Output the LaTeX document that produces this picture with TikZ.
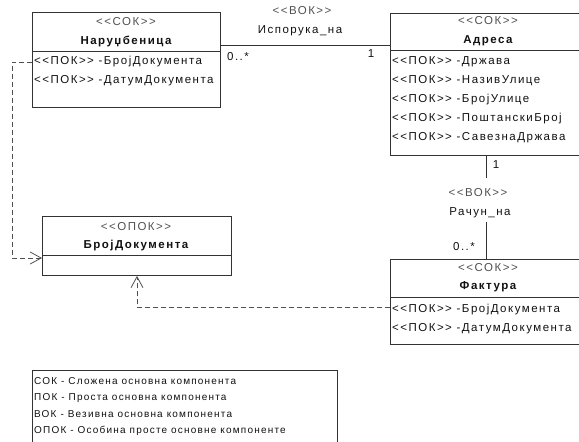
\documentclass[tikz,border=0pt]{standalone}
\usepackage{fontspec}
\setmainfont{Liberation Sans}[LetterSpace=13,Ligatures=TeXOff]
\newfontfamily\legendfont{Liberation Sans}[LetterSpace=12,Ligatures=TeXOff]
\usetikzlibrary{arrows.meta}
\definecolor{ink}{HTML}{111111}
\definecolor{frame}{HTML}{333333}
\definecolor{stereo}{HTML}{505050}
\begin{document}
\begin{tikzpicture}[x=1pt,y=-1pt,
  classbox/.style={draw=frame,line width=0.9pt,inner sep=0pt,anchor=north west},
  sep/.style={draw=frame,line width=0.9pt},
  txt/.style={inner sep=0pt,text=ink,font=\fontsize{11.5}{13}\selectfont},
  stereotype/.style={txt,text=stereo},
  cname/.style={txt,font=\fontsize{11.5}{13}\selectfont\bfseries},
  attr/.style={txt,anchor=west},
  mult/.style={txt},
  assoc/.style={draw=frame,line width=0.8pt},
  depend/.style={draw=stereo,line width=0.8pt,dash pattern=on 5pt off 3pt,
    -{Straight Barb[length=11pt,width=12pt,line width=0.8pt]}},
  legendtxt/.style={inner sep=0pt,anchor=west,text=ink,font=\legendfont\fontsize{10}{12}\selectfont}
]
\clip (0,0) rectangle (579,442);

% Наруџбеница
\node[classbox,minimum width=188pt,minimum height=95pt] (nar) at (32,12) {};
\draw[sep] (32,51) -- (220,51);
\node[stereotype] (narS) at (126,22) {<<СОК>>};
\node[cname] (narN) at (126,41) {Наруџбеница};
\node[attr] (narA1) at (34,62) {<<ПОК>> -БројДокумента};
\node[attr] (narA2) at (34,81) {<<ПОК>> -ДатумДокумента};

% Адреса
\node[classbox,minimum width=196pt,minimum height=142pt] (adr) at (390,13) {};
\draw[sep] (390,50) -- (586,50);
\node[stereotype] (adrS) at (488,21) {<<СОК>>};
\node[cname] (adrN) at (488,41) {Адреса};
\node[attr] (adrA1) at (392,62) {<<ПОК>> -Држава};
\node[attr] (adrA2) at (392,81) {<<ПОК>> -НазивУлице};
\node[attr] (adrA3) at (392,100) {<<ПОК>> -БројУлице};
\node[attr] (adrA4) at (392,119) {<<ПОК>> -ПоштанскиБрој};
\node[attr] (adrA5) at (392,138) {<<ПОК>> -СавезнаДржава};

% Фактура
\node[classbox,minimum width=196pt,minimum height=85pt] (fak) at (390,259) {};
\draw[sep] (390,297) -- (586,297);
\node[stereotype] (fakS) at (488,268) {<<СОК>>};
\node[cname] (fakN) at (488,287) {Фактура};
\node[attr] (fakA1) at (392,310) {<<ПОК>> -БројДокумента};
\node[attr] (fakA2) at (392,329) {<<ПОК>> -ДатумДокумента};

% БројДокумента
\node[classbox,minimum width=189pt,minimum height=59pt] (bd) at (42,216) {};
\draw[sep] (42,255) -- (231,255);
\node[stereotype] (bdS) at (136,227) {<<ОПОК>>};
\node[cname] (bdN) at (136,246) {БројДокумента};

% Испорука_на
\draw[assoc] ([yshift=-33pt]nar.north east) -- ([yshift=-32pt]adr.north west);
\node[stereotype] (ispS) at (302,11) {<<ВОК>>};
\node[txt] (ispN) at (300,31) {Испорука\_на};
\node[mult] (ispM1) at (238,57) {0..*};
\node[mult] (ispM2) at (371,54) {1};

% Рачун_на
\coordinate (r1) at (486,178);
\coordinate (r2) at (486,222);
\draw[assoc] (adr.south -| r1) -- (r1);
\draw[assoc] (r2) -- (fak.north -| r2);
\node[mult] (racM1) at (496,165) {1};
\node[stereotype] (racS) at (478,193) {<<ВОК>>};
\node[txt] (racN) at (480,213) {Рачун\_на};
\node[mult] (racM2) at (464,247) {0..*};

% dependencies on БројДокумента
\draw[depend] ([yshift=-50pt]nar.north west) -- ++(-20pt,0) |- ([yshift=-42pt]bd.north west);
\draw[depend] ([yshift=-48pt]fak.north west) -| ([xshift=95pt]bd.south west);

% legend
\node[classbox,draw=frame,line width=0.8pt,minimum width=305pt,minimum height=90pt] (leg) at (32,370) {};
\node[legendtxt] (l1) at (34,381) {СОК - Сложена основна компонента};
\node[legendtxt] (l2) at (34,398) {ПОК - Проста основна компонента};
\node[legendtxt] (l3) at (34,414) {ВОК - Везивна основна компонента};
\node[legendtxt] (l4) at (34,431) {ОПОК - Особина просте основне компоненте};
\end{tikzpicture}
\end{document}
